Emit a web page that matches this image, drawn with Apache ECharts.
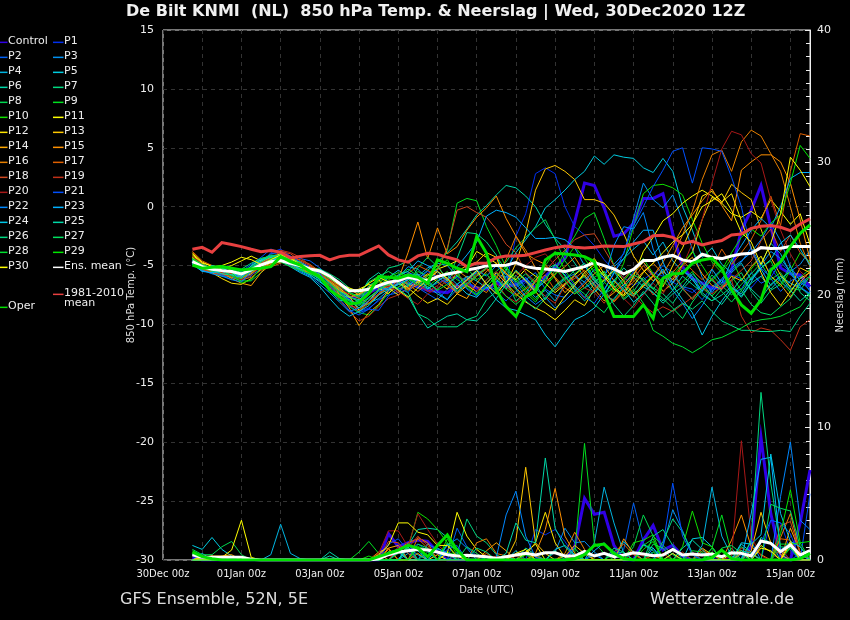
<!DOCTYPE html>
<html>
<head>
<meta charset="utf-8">
<title>De Bilt KNMI 850 hPa</title>
<script src="https://cdn.jsdelivr.net/npm/echarts@6/dist/echarts.min.js"></script>
<style>html,body{margin:0;padding:0;background:#000}#chart{width:850px;height:620px}</style>
</head>
<body>
<div id="chart"></div>
<script>
// ticks
const dateLabels = ['30Dec 00z','01Jan 00z','03Jan 00z','05Jan 00z','07Jan 00z','09Jan 00z','11Jan 00z','13Jan 00z','15Jan 00z'];
const memberNames = ['Control','P1','P2','P3','P4','P5','P6','P7','P8','P9','P10','P11','P12','P13','P14','P15','P16','P17','P18','P19','P20','P21','P22','P23','P24','P25','P26','P27','P28','P29','P30'];
const memberColors = ['#3000e6','#0030f0','#0060f5','#0090f0','#00b4e0','#00cce0','#00d8a8','#00d880','#00d850','#00e020','#10e000','#ffff00','#ffe600','#ffc800','#ffa800','#ff9000','#e88000','#e06000','#d04820','#c03018','#a81818','#0050ff','#0088ff','#00b0ff','#00c8e8','#00d8a8','#00d880','#00e060','#00e030','#00e800','#ffff00'];

// 850 hPa temperature, one value per 6 h step from 30Dec 18z
const tempControl = [-4.6,-5.3,-5.5,-5.6,-5.7,-5.8,-5.5,-5.0,-4.6,-4.5,-4.8,-5.1,-5.4,-5.7,-6.2,-6.9,
-7.8,-7.6,-7.3,-6.9,-6.6,-6.3,-6.5,-6.8,-7.1,-7.2,-7.3,-6.8,-6.6,-6.9,-7.0,-6.5,
-6.8,-6.6,-6.2,-6.9,-5.9,-5.1,-4.4,-1.3,2.0,1.8,-0.1,-2.5,-2.3,-1.4,0.7,0.7,
1.1,-2.3,-5.1,-6.1,-6.5,-6.9,-6.9,-5.4,-2.0,-0.3,1.8,-1.7,-5.2,-5.7,-5.8,-6.8];
const tempP1 = [-4.4,-4.9,-5.2,-5.5,-5.8,-6.2,-5.7,-4.9,-3.9,-3.6,-4.2,-4.7,-5.1,-5.7,-6.4,-7.4,
-8.2,-8.9,-8.6,-8.0,-7.2,-6.6,-6.2,-6.6,-6.9,-6.5,-6.1,-5.9,-6.5,-6.8,-7.0,-6.3,
-6.6,-2.5,-0.6,2.8,3.3,2.8,0.0,-1.7,-2.4,-3.3,-4.5,-5.4,-6.0,-6.7,-6.2,-5.6,
-5.9,-6.4,-6.9,-7.3,-6.6,-7.1,-6.5,-5.8,-6.1,-6.9,-5.9,-5.2,-6.4,-7.0,-6.5,-6.8];
const tempP2 = [-4.6,-5.3,-5.5,-5.8,-6.0,-6.3,-5.9,-4.6,-4.0,-3.9,-4.7,-4.4,-4.6,-5.2,-6.0,-7.0,
-8.4,-9.0,-8.7,-7.9,-7.5,-7.3,-6.5,-6.9,-7.4,-7.9,-7.0,-6.6,-6.0,-7.4,-6.5,-5.7,
-6.0,-6.9,-6.2,-5.6,-7.0,-7.5,-7.7,-6.6,-5.9,-6.5,-7.6,-7.9,-6.7,-5.5,-4.7,-5.9,
-5.0,-5.6,-6.8,-7.0,-7.9,-6.8,-6.2,-7.3,-7.0,-5.6,-6.5,-6.1,-7.2,-6.3,-5.9,-7.2];
const tempP3 = [-4.9,-5.4,-5.6,-5.7,-5.9,-6.1,-5.8,-5.3,-4.5,-4.2,-4.5,-5.0,-5.4,-5.8,-6.4,-7.2,
-7.9,-8.3,-7.7,-7.1,-6.7,-6.0,-5.1,-5.3,-6.2,-5.5,-6.5,-7.3,-6.2,-5.6,-6.6,-7.1,
-5.9,-6.7,-6.0,-7.0,-7.6,-6.8,-6.1,-5.7,-6.9,-6.4,-5.8,-4.9,-4.0,-1.0,2.0,0.6,
-0.1,1.0,-1.2,-3.6,-6.0,-7.3,-6.2,-5.4,-4.7,-3.5,-5.0,-3.8,-4.4,-5.5,-4.9,-3.7];
const tempP4 = [-4.7,-5.5,-5.4,-5.2,-5.7,-6.0,-5.5,-4.7,-4.2,-4.3,-4.6,-4.9,-5.7,-6.1,-6.9,-7.4,
-8.0,-8.6,-8.2,-7.8,-7.1,-6.6,-6.8,-5.9,-5.2,-4.8,-5.0,-5.9,-6.3,-5.5,-4.7,-6.2,
-7.0,-5.8,-6.9,-7.7,-7.1,-8.0,-6.6,-5.9,-6.4,-7.3,-6.5,-5.1,-4.4,-3.6,-2.9,-4.1,
-3.0,-4.6,-5.5,-5.9,-7.2,-6.1,-5.3,-6.6,-7.6,-6.4,-4.9,-3.1,-4.0,-5.7,-6.7,-6.0];
const tempP5 = [-4.8,-5.3,-5.5,-5.3,-5.6,-5.9,-5.2,-4.8,-4.4,-4.5,-4.9,-5.3,-5.6,-6.2,-6.7,-7.5,
-7.7,-7.9,-7.2,-6.8,-6.0,-5.4,-5.9,-6.4,-6.8,-7.4,-7.9,-6.6,-5.9,-6.3,-6.9,-6.4,
-5.4,-3.9,-2.8,-1.7,-0.1,0.6,1.4,2.3,3.0,4.3,3.6,4.4,4.2,4.1,3.3,2.9,
4.1,3.0,0.0,-2.0,-4.3,-3.5,-4.9,-5.6,-4.8,-6.2,-5.3,-6.7,-5.9,-6.5,-6.9,-7.4];
const tempP6 = [-4.5,-5.2,-5.4,-5.6,-5.5,-5.8,-5.2,-4.6,-4.4,-4.5,-4.6,-5.0,-5.5,-5.9,-6.2,-6.8,
-7.3,-7.6,-6.2,-5.6,-6.4,-7.0,-6.7,-6.1,-5.4,-4.7,-3.9,-3.0,-1.9,-0.7,0.1,1.0,
1.8,1.6,0.9,0.0,-1.5,-2.7,-3.6,-4.8,-6.0,-6.7,-7.5,-6.3,-5.2,-6.0,-6.8,-7.3,
-8.0,-7.1,-5.9,-6.6,-7.3,-8.0,-7.5,-6.8,-7.7,-6.5,-5.9,-7.0,-6.1,-5.5,-6.8,-7.6];
const tempP7 = [-4.6,-5.0,-5.2,-5.5,-5.7,-5.5,-5.1,-4.5,-4.1,-4.2,-4.7,-4.9,-5.2,-5.3,-5.7,-6.2,
-6.9,-7.5,-7.1,-6.3,-5.2,-5.0,-4.6,-5.8,-6.6,-7.0,-6.2,-4.4,-2.2,-2.3,-3.0,-4.1,
-6.3,-8.0,-7.3,-6.2,-5.4,-4.9,-5.9,-7.0,-7.7,-6.5,-5.5,-6.7,-7.9,-7.2,-6.0,-6.9,
-7.4,-8.2,-7.0,-6.1,-7.5,-8.0,-7.0,-6.3,-5.6,-7.2,-8.2,-7.1,-6.6,-5.0,-7.3,-8.0];
const tempP8 = [-4.4,-5.1,-5.6,-5.9,-6.0,-6.3,-6.3,-5.6,-4.7,-4.4,-4.9,-5.3,-5.5,-5.8,-6.3,-7.0,
-7.6,-8.1,-8.3,-7.4,-6.7,-6.9,-6.1,-6.5,-7.0,-6.4,-5.7,-5.5,-6.9,-7.5,-6.2,-5.5,
-4.7,-3.5,-2.6,-1.8,-1.1,-2.8,-4.6,-5.7,-5.0,-6.1,-7.4,-6.9,-6.1,-5.3,-6.4,-7.0,
-6.0,-5.5,-7.0,-7.8,-6.9,-5.8,-6.7,-7.5,-6.6,-5.7,-4.8,-6.2,-5.6,-6.9,-7.1,-5.9];
const tempP9 = [-4.3,-5.0,-5.3,-5.4,-5.4,-5.7,-5.6,-4.9,-4.5,-4.3,-4.5,-5.1,-5.6,-6.1,-6.8,-7.6,
-8.5,-9.0,-9.2,-8.4,-7.3,-6.8,-6.4,-5.5,-5.9,-5.3,-3.7,0.3,0.7,0.5,-1.7,-3.3,
-5.2,-6.3,-7.3,-8.1,-6.9,-5.4,-3.8,-2.5,-1.0,-0.5,-2.7,-5.0,-6.4,-7.5,-6.6,-5.8,
-6.3,-7.1,-6.4,-5.5,-6.9,-7.6,-6.7,-5.9,-7.1,-6.0,-5.2,-4.6,-6.3,-7.3,-6.0,-5.3];
const tempP10 = [-4.5,-5.1,-5.3,-5.3,-5.6,-5.9,-5.0,-4.4,-4.2,-4.0,-4.6,-5.2,-5.5,-5.7,-6.3,-6.9,
-7.7,-8.0,-7.4,-6.6,-6.2,-5.8,-5.5,-6.2,-6.8,-6.1,-5.5,-6.2,-6.7,-5.9,-5.2,-6.0,
-7.0,-7.6,-6.9,-6.0,-5.0,-3.8,-5.4,-6.5,-5.9,-5.1,-5.8,-6.6,-4.8,-1.7,1.1,1.8,
1.9,1.6,1.0,-1.1,-3.1,-4.7,-5.6,-4.4,-6.2,-5.3,-4.2,-5.9,-6.8,-5.4,-3.9,-4.7];
const tempP11 = [-4.1,-4.8,-5.0,-5.3,-5.0,-4.6,-4.2,-4.6,-4.3,-4.0,-4.3,-4.8,-5.4,-5.6,-6.1,-6.7,
-7.2,-7.0,-6.6,-6.9,-7.4,-6.4,-7.0,-6.4,-6.1,-5.3,-5.0,-4.6,-5.2,-3.8,-4.3,-4.8,
-5.7,-6.2,-5.3,-5.9,-6.5,-7.3,-6.6,-5.8,-5.1,-4.4,-5.7,-6.8,-7.5,-5.9,-3.8,-2.6,
-1.2,-0.6,0.3,0.9,1.4,0.9,0.3,-0.6,-0.9,-0.4,-1.0,0.6,-0.4,-1.5,-0.6,-3.2];
const tempP12 = [-4.2,-4.9,-5.6,-6.1,-6.5,-6.6,-6.1,-5.3,-4.7,-4.4,-4.8,-5.1,-5.3,-5.7,-6.4,-7.1,
-7.7,-7.4,-6.8,-6.2,-6.9,-7.5,-6.9,-7.6,-8.2,-7.8,-8.3,-7.4,-6.7,-7.2,-6.5,-5.6,
-6.5,-7.4,-8.1,-8.6,-9.0,-9.6,-8.8,-7.9,-8.4,-7.0,-6.2,-5.4,-6.3,-7.4,-6.7,-5.9,
-6.8,-5.0,-3.5,-1.6,0.9,1.3,0.4,1.1,-1.2,-3.5,-5.6,-7.3,-8.4,-7.2,-6.1,-5.6];
const tempP13 = [-4.3,-5.2,-5.3,-5.0,-5.4,-6.0,-5.7,-5.0,-4.8,-4.6,-4.4,-4.7,-5.2,-5.8,-6.1,-6.9,
-7.6,-8.8,-8.0,-7.0,-6.6,-6.2,-6.9,-6.3,-5.7,-6.4,-7.0,-5.5,-5.0,-4.7,-3.9,-4.3,
-6.6,-4.8,-2.3,1.4,3.2,3.5,3.0,2.3,0.6,0.6,0.3,-0.7,-2.3,-4.2,-5.4,-6.3,
-5.5,-6.2,-4.9,-3.9,-1.1,0.8,0.3,1.9,1.2,0.6,-1.9,-4.3,-5.8,-6.8,-5.2,-5.6];
const tempP14 = [-3.9,-4.8,-5.4,-5.6,-6.1,-6.5,-6.7,-5.6,-4.9,-4.7,-4.8,-5.0,-5.1,-5.4,-6.0,-7.5,
-8.6,-10.1,-9.0,-8.3,-7.1,-6.5,-7.1,-6.6,-5.8,-5.0,-6.3,-7.4,-7.8,-6.5,-5.5,-4.8,
-5.6,-6.9,-7.7,-6.3,-5.1,-6.1,-7.3,-6.5,-5.8,-7.0,-8.0,-7.3,-6.6,-5.7,-4.7,-5.8,
-7.2,-6.5,-5.0,-4.3,-5.7,-6.7,-7.0,-5.9,-6.3,-5.1,-4.2,-5.9,-6.6,-7.7,-6.4,-5.5];
const tempP15 = [-4.4,-5.2,-5.5,-5.7,-5.8,-5.8,-5.3,-4.7,-4.3,-4.5,-5.0,-5.4,-5.6,-5.9,-6.3,-6.7,
-7.0,-7.5,-6.9,-6.3,-7.1,-6.2,-3.9,-1.3,-4.4,-1.8,-4.0,-3.4,-2.0,-0.9,-0.1,0.9,
-1.0,-2.5,-4.0,-4.5,-4.9,-6.0,-6.9,-7.4,-6.6,-5.7,-5.0,-6.3,-7.2,-7.6,-6.8,-5.9,
-4.7,-3.3,-1.8,-0.7,0.5,1.5,0.1,-1.2,3.1,3.8,4.4,4.4,3.8,2.0,-1.1,-4.5];
const tempP16 = [-4.7,-5.4,-5.5,-5.6,-6.0,-6.1,-5.6,-5.2,-4.9,-4.6,-4.5,-5.1,-5.7,-5.6,-6.0,-7.1,
-7.4,-7.8,-8.2,-7.5,-6.8,-6.0,-6.6,-7.2,-6.5,-5.8,-6.2,-5.4,-6.0,-6.8,-7.3,-6.1,
-4.5,-2.5,-3.7,-5.2,-6.4,-5.7,-5.1,-4.3,-5.6,-6.6,-7.4,-8.0,-7.1,-6.4,-5.5,-4.8,
-5.7,-4.3,-2.4,-0.4,2.3,4.4,4.8,3.0,5.5,6.5,6.0,4.5,3.0,0.0,-3.1,-5.1];
const tempP17 = [-3.8,-4.6,-5.0,-5.4,-5.7,-6.2,-6.0,-5.4,-5.1,-4.8,-4.4,-4.5,-4.9,-5.5,-6.3,-7.3,
-8.2,-8.9,-8.2,-7.4,-6.5,-6.3,-5.7,-5.0,-5.4,-5.9,-6.7,-7.3,-6.6,-5.9,-5.3,-5.9,
-6.8,-7.5,-7.0,-6.4,-5.8,-7.1,-6.5,-6.1,-5.4,-6.3,-7.3,-8.1,-7.2,-6.1,-5.0,-5.9,
-6.7,-5.6,-4.6,-5.4,-6.2,-5.3,-3.6,-4.9,-3.9,-2.8,-1.2,0.9,-1.6,3.0,6.2,6.0];
const tempP18 = [-4.5,-5.3,-5.6,-5.8,-5.9,-6.0,-5.4,-4.8,-4.4,-3.8,-4.0,-4.6,-5.0,-5.6,-6.5,-7.6,
-8.4,-8.6,-8.0,-7.4,-6.7,-7.3,-6.2,-5.8,-6.3,-5.4,-3.5,-0.3,0.0,-0.5,-0.9,-1.9,
-3.2,-3.9,-5.6,-6.4,-5.5,-4.5,-3.7,-2.8,-2.4,-2.3,-3.6,-5.0,-6.1,-5.2,-6.3,-7.5,
-6.6,-5.8,-6.9,-7.9,-6.8,-6.1,-7.0,-6.2,-5.4,-4.6,-2.9,-1.9,-3.8,-2.4,-3.9,-4.8];
const tempP19 = [-4.6,-5.0,-5.4,-5.6,-5.7,-5.6,-5.5,-5.0,-4.6,-3.7,-3.9,-4.3,-5.0,-5.9,-6.7,-7.9,
-8.9,-9.7,-9.3,-8.5,-7.8,-7.5,-6.9,-6.6,-7.2,-6.7,-6.0,-6.8,-6.3,-5.7,-5.2,-6.5,
-7.6,-8.1,-7.4,-6.8,-7.6,-8.2,-6.7,-5.9,-6.9,-7.3,-8.2,-7.0,-6.2,-7.5,-8.4,-9.0,
-8.5,-8.9,-8.3,-7.7,-6.9,-7.4,-6.8,-6.2,-9.3,-10.7,-10.3,-10.5,-11.3,-12.2,-10.2,-9.6];
const tempP20 = [-4.2,-4.9,-5.2,-5.5,-5.9,-6.2,-5.8,-5.1,-4.7,-4.5,-4.7,-4.8,-5.2,-5.6,-6.2,-6.8,
-7.5,-8.2,-7.5,-6.6,-6.8,-7.2,-7.8,-8.3,-7.4,-6.9,-6.3,-5.7,-6.5,-7.2,-6.2,-5.5,
-6.4,-5.9,-5.0,-4.3,-4.0,-5.0,-6.2,-6.9,-7.8,-7.0,-6.1,-6.9,-7.8,-8.6,-7.5,-6.5,
-7.4,-6.0,-5.1,-3.1,-1.1,2.0,4.9,6.4,6.1,4.5,3.7,0.6,-2.0,-4.0,-5.5,-6.2];
const tempP21 = [-4.5,-5.2,-5.3,-5.8,-6.2,-5.5,-4.9,-4.3,-3.6,-3.9,-4.2,-4.7,-5.2,-5.7,-6.6,-7.8,
-8.8,-9.2,-8.7,-8.8,-7.6,-6.9,-7.3,-6.1,-5.5,-6.0,-6.5,-6.0,-7.0,-7.6,-6.6,-7.3,
-8.0,-7.2,-6.4,-7.3,-5.9,-5.1,-5.6,-6.7,-7.7,-8.2,-7.0,-5.7,-3.9,-1.6,0.0,1.7,
3.1,4.7,5.0,2.0,5.0,4.9,4.7,2.5,0.0,-3.7,-5.2,-6.0,-4.7,-5.6,-6.8,-7.4];
const tempP22 = [-4.8,-5.4,-5.7,-5.9,-6.2,-6.4,-5.5,-4.9,-4.5,-4.4,-5.0,-5.5,-5.9,-6.6,-7.3,-8.1,
-8.9,-8.6,-8.0,-7.2,-6.9,-6.5,-5.6,-5.9,-6.2,-7.2,-7.9,-7.0,-6.1,-5.4,-5.9,-5.0,
-5.8,-6.5,-7.6,-8.3,-7.7,-8.6,-8.0,-7.2,-6.4,-5.3,-6.1,-3.3,-1.7,-1.9,-0.5,-3.6,
-5.7,-7.1,-8.2,-9.5,-8.4,-7.0,-6.1,-5.2,-4.6,-3.9,-2.8,-1.4,-2.9,-5.1,-6.3,-7.1];
const tempP23 = [-4.9,-5.5,-5.6,-5.5,-5.8,-6.0,-5.3,-4.6,-4.2,-4.3,-4.8,-5.4,-5.8,-6.4,-7.0,-7.7,
-8.3,-8.0,-7.4,-6.7,-7.1,-5.8,-5.5,-4.6,-5.0,-5.5,-6.3,-5.1,-4.1,-3.0,-0.8,-0.3,
-0.5,-0.9,-1.8,-2.7,-2.7,-2.6,-2.8,-3.5,-5.0,-6.3,-7.1,-5.6,-4.4,-3.0,-2.0,-2.0,
-4.7,-6.5,-5.4,-6.2,-7.2,-5.3,-6.5,-4.6,-3.3,-2.0,-1.0,-1.8,0.0,2.4,2.9,2.9];
const tempP24 = [-4.7,-5.3,-5.0,-5.2,-5.6,-5.9,-5.0,-4.5,-4.3,-4.6,-5.1,-5.6,-6.0,-6.8,-7.8,-8.7,
-9.3,-8.9,-8.4,-7.5,-7.0,-6.6,-6.2,-5.7,-7.0,-6.3,-5.8,-6.6,-7.4,-7.7,-6.8,-7.9,
-8.6,-8.8,-9.2,-9.6,-10.9,-11.9,-10.7,-9.6,-9.2,-8.6,-7.4,-6.2,-7.0,-8.1,-7.4,-6.4,
-5.3,-6.7,-7.9,-9.0,-10.9,-9.3,-8.0,-6.9,-7.4,-6.1,-5.2,-4.5,-3.1,-2.4,-3.6,-5.0];
const tempP25 = [-4.6,-5.0,-5.4,-5.7,-5.8,-5.7,-5.3,-4.9,-4.5,-4.3,-4.8,-5.3,-5.8,-6.3,-7.1,-8.0,
-7.9,-8.6,-7.7,-7.1,-6.5,-7.0,-7.6,-9.1,-10.3,-9.8,-9.3,-9.1,-9.6,-9.7,-8.9,-7.8,
-6.6,-5.4,-6.2,-7.1,-6.3,-4.9,-5.8,-7.1,-8.0,-7.2,-6.3,-5.5,-6.7,-7.6,-6.5,-7.3,
-8.2,-7.4,-6.8,-5.7,-6.5,-7.6,-8.3,-7.2,-6.1,-7.0,-7.8,-6.6,-5.9,-7.1,-8.0,-7.3];
const tempP26 = [-4.5,-5.1,-5.5,-5.5,-5.4,-5.3,-4.8,-4.4,-4.2,-4.1,-4.5,-4.7,-5.3,-5.8,-6.5,-7.2,
-7.6,-8.1,-6.7,-6.2,-5.9,-6.4,-7.3,-9.1,-9.5,-10.2,-10.2,-10.2,-9.6,-9.3,-7.9,-7.2,
-6.3,-7.0,-8.0,-8.7,-7.8,-7.0,-6.2,-5.4,-4.8,-6.0,-7.0,-8.3,-9.3,-8.4,-7.2,-8.2,
-9.4,-8.8,-8.2,-8.7,-8.0,-8.9,-9.7,-10.1,-10.5,-10.5,-10.6,-10.6,-10.5,-10.6,-9.3,-8.2];
const tempP27 = [-4.4,-4.9,-5.2,-5.2,-5.3,-5.6,-5.2,-4.7,-4.2,-4.2,-4.6,-5.0,-5.2,-5.6,-6.1,-6.6,
-7.0,-7.3,-6.4,-5.9,-5.5,-6.0,-6.7,-5.2,-4.3,-5.1,-6.1,-7.2,-6.5,-5.8,-5.2,-4.2,
-5.4,-6.4,-5.7,-6.6,-7.9,-6.7,-6.0,-6.8,-7.4,-8.3,-9.0,-7.8,-6.9,-5.8,-6.2,-7.0,
-7.8,-8.6,-9.5,-8.1,-7.0,-6.2,-7.2,-8.1,-7.1,-8.3,-9.0,-9.2,-8.5,-7.8,-6.5,-5.9];
const tempP28 = [-4.7,-5.2,-5.4,-5.4,-5.9,-6.1,-5.4,-4.9,-4.6,-4.7,-5.1,-5.4,-5.7,-6.0,-6.6,-7.3,
-8.0,-8.4,-7.8,-7.0,-6.6,-5.9,-5.3,-5.9,-6.4,-7.1,-6.6,-5.9,-5.2,-6.2,-5.7,-6.8,
-7.6,-8.3,-7.6,-7.0,-6.1,-5.2,-6.3,-7.4,-6.9,-6.0,-5.5,-6.8,-7.8,-7.0,-8.2,-10.5,
-11.0,-11.6,-11.9,-12.4,-11.9,-11.3,-11.1,-10.7,-10.3,-9.8,-9.6,-9.5,-9.3,-8.9,-8.5,-7.4];
const tempP29 = [-4.4,-5.0,-5.3,-5.4,-5.6,-6.5,-6.2,-5.2,-4.4,-4.2,-4.6,-5.2,-5.4,-5.5,-6.0,-6.6,
-7.3,-7.7,-7.0,-6.4,-6.0,-5.6,-6.0,-6.7,-5.9,-5.2,-4.5,-5.8,-6.7,-7.5,-6.8,-5.9,
-5.1,-6.1,-7.1,-7.9,-6.8,-5.8,-4.5,-3.4,-4.4,-5.6,-6.4,-7.2,-6.3,-5.3,-4.4,-5.7,
-6.6,-5.8,-4.9,-3.8,-5.0,-6.3,-5.4,-3.9,-2.6,-1.9,-2.5,-1.4,-0.7,2.0,5.2,4.1];
const tempP30 = [-4.0,-4.7,-5.1,-5.0,-4.7,-4.3,-4.5,-4.9,-4.5,-4.1,-4.4,-4.9,-5.3,-5.5,-6.0,-6.6,
-6.9,-7.2,-6.5,-6.0,-6.4,-7.1,-7.7,-6.9,-6.2,-5.5,-6.1,-7.0,-6.2,-5.4,-6.6,-7.4,
-6.4,-5.5,-6.3,-7.2,-8.2,-8.8,-7.6,-6.7,-5.6,-4.9,-5.9,-7.0,-7.6,-6.7,-5.6,-4.8,
-3.9,-3.0,-2.4,-1.5,0.0,0.5,1.1,-0.3,-2.2,-3.0,-4.9,-3.1,-0.6,4.2,3.1,1.7];
const tempMean = [-4.67,-5.09,-5.32,-5.43,-5.51,-5.71,-5.37,-4.95,-4.67,-4.58,-4.81,-5.0,-5.29,-5.46,-5.88,-6.5,
-7.13,-7.13,-7.01,-6.7,-6.42,-6.28,-6.0,-6.17,-6.28,-5.94,-5.71,-5.57,-5.37,-5.23,-5.03,-5.0,
-4.98,-4.75,-5.09,-5.23,-5.29,-5.37,-5.51,-5.29,-5.09,-4.75,-5.0,-5.29,-5.71,-5.32,-4.58,-4.58,
-4.3,-4.13,-4.52,-4.67,-4.04,-4.3,-4.41,-4.19,-4.02,-3.96,-3.48,-3.56,-3.53,-3.39,-3.39,-3.39];
const tempClim = [-3.62,-3.45,-3.87,-3.05,-3.22,-3.39,-3.62,-3.82,-3.73,-3.87,-4.35,-4.24,-4.16,-4.13,-4.52,-4.24,
-4.13,-4.13,-3.73,-3.34,-4.1,-4.52,-4.72,-4.18,-3.96,-4.04,-4.3,-4.52,-5.09,-4.8,-4.8,-4.33,
-4.19,-4.19,-4.13,-3.9,-3.68,-3.48,-3.34,-3.45,-3.51,-3.45,-3.34,-3.36,-3.39,-3.17,-2.97,-2.46,
-2.43,-2.6,-3.14,-2.94,-3.25,-3.05,-2.88,-2.4,-2.32,-1.84,-1.67,-1.61,-1.75,-2.03,-1.47,-1.04];
const tempOper = [-4.95,-5.23,-5.15,-5.09,-5.23,-5.37,-5.29,-5.23,-5.09,-4.24,-4.67,-4.95,-5.51,-5.94,-7.07,-7.64,
-8.26,-8.15,-7.35,-5.94,-6.0,-6.08,-5.8,-6.0,-6.5,-4.52,-4.81,-5.23,-5.51,-2.54,-3.96,-7.07,
-8.49,-9.33,-7.64,-7.21,-4.52,-3.96,-4.02,-4.1,-4.24,-4.67,-7.35,-9.33,-9.33,-9.33,-8.34,-9.48,
-6.08,-5.71,-5.66,-4.81,-4.52,-4.38,-5.23,-7.07,-8.34,-9.05,-7.92,-5.37,-4.67,-3.39,-2.26,-1.55];

// precipitation, [step, mm] for the steps that rain; everything else is 0
const rainControl = [[0,.2],[20,2],[21,1],[22,1.3],[23,1.5],[24,1.4],[25,.6],[31,.1],[39,1],[40,4.65],[41,3.45],[42,3.6],[43,1.1],[46,1.5],[47,2.6],[48,.75],[49,1.1],[50,.3],[57,1],[58,9.25],[59,3.5],[60,.3],[62,2.8],[63,6.8]];
const rainP1 = [[1,.3],[22,.8],[23,1.2],[24,.7],[27,.6],[35,2.3],[36,1.9],[37,2.3],[38,1.4],[39,.3],[45,.6],[49,.5],[59,3],[60,2.8],[61,.7]];
const rainP2 = [[2,.3],[21,.7],[22,1.3],[27,2.4],[28,1],[29,.3],[31,.2],[44,.8],[45,4.3],[46,1.3],[47,.4],[51,.6],[56,.4],[62,.5]];
const rainP3 = [[0,.4],[24,1.2],[25,.8],[26,.6],[37,.6],[38,2.4],[39,1.3],[40,1.4],[41,.6],[48,1],[49,3.8],[50,2.2],[51,.5],[54,.7],[57,1.4]];
const rainP4 = [[1,.5],[8,.4],[9,2.7],[10,.5],[11,.1],[22,.5],[41,1.3],[42,5.5],[43,2.8],[44,.5],[47,.9],[52,1.1],[53,5.5],[54,1.8],[55,.3],[60,.8]];
const rainP5 = [[0,1.1],[1,.8],[2,1.7],[3,.8],[4,.3],[22,.9],[23,.4],[33,.7],[40,.6],[44,1.4],[45,.6],[51,1.6],[52,1.7],[53,1],[56,1.2],[57,.6]];
const rainP6 = [[0,.5],[14,.6],[15,.1],[22,1.1],[23,2.3],[24,2.4],[25,2.3],[26,1.7],[27,.9],[34,.9],[35,.4],[46,1.2],[47,.7],[52,.5],[58,1.7],[59,1.3]];
const rainP7 = [[0,.4],[3,.3],[27,.4],[28,3.1],[29,1.8],[30,1.3],[31,.4],[43,.5],[44,.6],[48,1.4],[49,3.1],[50,2.1],[51,.5],[55,.9],[61,1]];
const rainP8 = [[0,.8],[1,.4],[2,.4],[3,1],[4,1.4],[5,.4],[35,.3],[45,1],[46,3.4],[47,1.8],[48,1.1],[49,.4],[53,.9],[56,1],[57,.5]];
const rainP9 = [[17,.6],[18,1.4],[19,.5],[26,.6],[27,.3],[39,.5],[40,8.8],[41,1.3],[42,.5],[47,.6],[53,.9],[54,3.4],[55,.5]];
const rainP10 = [[22,.9],[23,3.6],[24,3.1],[25,2.3],[26,1.3],[34,.5],[45,1.3],[46,1.5],[47,1.9],[50,1],[51,3.7],[52,1.3],[53,1],[61,.9],[62,.6]];
const rainP11 = [[3,.2],[4,.75],[5,3],[6,.2],[26,.5],[27,3.6],[28,1.8],[29,.8],[30,.2],[34,.6],[35,1.2],[55,.5],[56,.7],[61,1.2]];
const rainP12 = [[1,.2],[2,.3],[25,.4],[34,.4],[35,1.3],[36,3.6],[37,1.3],[38,.2],[40,.7],[52,.9],[53,.4],[58,1.1],[59,.6]];
const rainP13 = [[1,.3],[20,.6],[21,.7],[31,.2],[33,1.5],[34,7],[35,1.3],[36,.5],[38,.3],[39,1.1],[40,.5],[57,.7],[58,3.6],[59,1.3],[60,.4]];
const rainP14 = [[2,.3],[3,.3],[4,.4],[20,.9],[21,1.1],[30,.7],[31,1.3],[32,.7],[47,.4],[56,.5],[61,2.4],[62,.6]];
const rainP15 = [[19,.6],[20,.9],[23,.5],[35,.5],[36,2.3],[37,5.4],[38,1.8],[39,.5],[44,1.6],[45,.5],[55,1.5],[56,3.4],[57,1],[58,.4]];
const rainP16 = [[20,.8],[23,1.7],[24,1.3],[29,1.3],[30,1.6],[31,.5],[32,.3],[38,.5],[39,2.1],[40,.8],[60,1.7],[61,3.5],[62,.5]];
const rainP17 = [[19,.5],[21,.8],[22,1.3],[23,1.6],[24,.9],[30,.5],[43,.6],[44,1.2],[45,.4],[52,.7],[53,.4],[60,1.6],[61,1.5]];
const rainP18 = [[20,1.4],[21,1.3],[22,.5],[31,.3],[35,.3],[48,.5],[50,.6],[52,.9],[60,2.6],[61,2.9],[62,.5]];
const rainP19 = [[21,1],[22,.9],[23,1.8],[24,1.1],[33,.3],[39,.4],[51,.6],[56,.9],[57,.5],[61,1.4],[62,.5]];
const rainP20 = [[19,.5],[20,2.2],[21,2.2],[22,1],[23,3.5],[24,2.3],[25,1.2],[26,.4],[45,.5],[46,.3],[55,.3],[56,9],[57,1.8],[58,.3],[60,.9]];
const rainP21 = [[20,1.2],[21,1.6],[22,.7],[26,.8],[27,1.1],[43,.7],[48,1.1],[49,5.8],[50,1.8],[51,.4],[58,1.3],[59,3],[60,2.8],[61,2],[63,5]];
const rainP22 = [[22,1.1],[23,.9],[26,1.1],[27,1.6],[28,.9],[31,.2],[32,3.4],[33,5.2],[34,1.8],[35,.2],[41,.4],[60,4.8],[61,8.9],[62,3],[63,2.3]];
const rainP23 = [[21,.6],[26,1.2],[27,.8],[41,.7],[42,1.3],[43,.4],[57,3.5],[58,7.6],[59,7.75],[60,.75],[61,1.3],[62,.4]];
const rainP24 = [[22,1.1],[23,.7],[25,.9],[26,.5],[32,.3],[37,.8],[38,1.1],[39,.4],[46,1.1],[47,.9],[56,1.3],[57,1.2],[58,1.9],[59,8],[60,3.5],[61,1.4],[62,1]];
const rainP25 = [[14,.3],[22,1],[32,.5],[33,2.8],[34,1.5],[35,1.3],[36,7.7],[37,2.4],[38,1],[39,.3],[50,.9],[51,1.5],[52,.8],[56,.7],[57,.5]];
const rainP26 = [[20,.6],[21,.8],[24,.6],[29,.9],[30,.6],[43,.9],[44,.6],[47,1.8],[48,2.3],[49,1.1],[57,1.5],[58,12.65],[59,5.8],[60,1],[61,.9]];
const rainP27 = [[23,1.2],[24,.9],[28,1],[29,.5],[37,.7],[39,.9],[47,1.2],[48,.9],[54,.9],[55,1.1],[56,.5],[59,4.2],[60,3.9],[61,3.7],[62,1]];
const rainP28 = [[21,.5],[22,.9],[26,1.3],[27,.7],[34,.4],[43,.6],[46,1.1],[47,1.6],[51,.7],[52,.6],[60,1.2],[61,1.2],[62,1.3]];
const rainP29 = [[0,.7],[1,.3],[18,.3],[23,1],[24,.8],[26,1.6],[27,.4],[46,.8],[47,1.4],[53,.6],[60,2],[61,5.3],[62,1.3],[63,1.4]];
const rainP30 = [[19,.4],[20,1.1],[21,2.8],[22,2.8],[23,2.1],[24,1.9],[25,1.1],[26,1.1],[27,.3],[33,.5],[34,.8],[49,.5],[58,.9],[59,.7],[61,1.4]];
const rainMean = [[0,.4],[1,.2],[2,.2],[3,.2],[4,.2],[5,.2],[6,.05],[19,.1],[20,.4],[21,.6],[22,.7],[23,.8],[24,.75],[25,.6],[26,.4],[27,.3],[28,.35],[29,.3],[30,.25],[31,.12],[32,.25],[33,.38],[34,.5],[35,.38],[36,.55],[37,.55],[38,.3],[39,.3],[40,.65],[41,.3],[42,.5],[43,.25],[44,.38],[45,.55],[46,.45],[47,.33],[48,.38],[49,.8],[50,.38],[51,.45],[52,.38],[53,.45],[54,.25],[55,.55],[56,.5],[57,.3],[58,1.43],[59,1.26],[60,.63],[61,1.13],[62,.38],[63,.7]];
const rainOper = [[0,.6],[1,.25],[2,.1],[19,.25],[20,.5],[21,.75],[22,1.1],[23,.9],[24,.25],[25,1.1],[26,1.9],[27,.75],[39,.1],[40,.4],[41,1.1],[42,1.2],[43,.5],[44,.1],[53,.2],[54,.75],[55,.1],[62,.1],[63,.5]];

const tempMembers = [tempControl,tempP1,tempP2,tempP3,tempP4,tempP5,tempP6,tempP7,tempP8,tempP9,tempP10,tempP11,tempP12,tempP13,tempP14,tempP15,tempP16,tempP17,tempP18,tempP19,tempP20,tempP21,tempP22,tempP23,tempP24,tempP25,tempP26,tempP27,tempP28,tempP29,tempP30];
const rainMembers = [rainControl,rainP1,rainP2,rainP3,rainP4,rainP5,rainP6,rainP7,rainP8,rainP9,rainP10,rainP11,rainP12,rainP13,rainP14,rainP15,rainP16,rainP17,rainP18,rainP19,rainP20,rainP21,rainP22,rainP23,rainP24,rainP25,rainP26,rainP27,rainP28,rainP29,rainP30];

const meanColor = '#ffffff', climColor = '#e84040', operColor = '#00e000', textColor = '#eeeeee';

const stepHour = i => 18 + 6 * i;
const tempLine = vals => vals.map((v, i) => [stepHour(i), v]);
const rainLine = pairs => {
    const full = tempMean.map((_, i) => [stepHour(i), 0]);
    pairs.forEach(p => { full[p[0]][1] = p[1]; });
    return full;
};

const lineSeries = (name, color, width, yAxisIndex, data) => ({
    name, type: 'line', yAxisIndex, data,
    showSymbol: false, symbol: 'none', silent: true,
    lineStyle: { color, width, join: 'miter' }
});

const series = [];
memberNames.forEach((name, m) => {
    const width = name === 'Control' ? 3 : 1;
    series.push(lineSeries(name, memberColors[m], width, 0, tempLine(tempMembers[m])));
    series.push(lineSeries(name, memberColors[m], width, 1, rainLine(rainMembers[m])));
});
series.push(lineSeries('Ens. mean', meanColor, 3, 0, tempLine(tempMean)));
series.push(lineSeries('Ens. mean', meanColor, 3, 1, rainLine(rainMean)));
series.push(lineSeries('1981-2010 mean', climColor, 3, 0, tempLine(tempClim)));
series.push(lineSeries('Oper', operColor, 3, 0, tempLine(tempOper)));
series.push(lineSeries('Oper', operColor, 3, 1, rainLine(rainOper)));

// the legend hugs its keys closer than the legend component can, so it is drawn by hand
const legendItem = (label, color, lineX, textX, rowY) => [
    { type: 'rect', shape: { x: lineX, y: rowY + 0.6, width: textX - lineX - 0.5, height: 1.5 }, style: { fill: color } },
    { type: 'text', x: textX, y: rowY, style: { text: label, fill: textColor, font: '11px "DejaVu Sans"', verticalAlign: 'middle' } }
];
let legendGraphics = [];
memberNames.forEach((name, m) => {
    const row = Math.floor(m / 2);
    const isLeft = m % 2 === 0;
    legendGraphics = legendGraphics.concat(legendItem(name, memberColors[m], isLeft ? 0 : 53, isLeft ? 8 : 64, 41 + 15 * row));
});
legendGraphics = legendGraphics.concat(
    legendItem('Ens. mean', meanColor, 53, 64, 266),
    legendItem('1981-2010', climColor, 53, 64, 293),
    [{ type: 'text', x: 64, y: 303.5, style: { text: 'mean', fill: textColor, font: '11px "DejaVu Sans"', verticalAlign: 'middle' } }],
    legendItem('Oper', operColor, 0, 8, 306)
);

const chart = echarts.init(document.getElementById('chart'), null, { renderer: 'canvas' });
chart.setOption({
    backgroundColor: '#000000',
    animation: false,
    textStyle: { fontFamily: 'DejaVu Sans' },
    title: [
        { text: 'De Bilt KNMI  (NL)  850 hPa Temp. & Neerslag | Wed, 30Dec2020 12Z', left: 126, top: 4, padding: 0, textStyle: { color: '#f0f0f0', fontSize: 16, fontWeight: 'bold', fontFamily: 'DejaVu Sans' } },
        { text: 'GFS Ensemble, 52N, 5E', left: 120, top: 592, padding: 0, textStyle: { color: '#dddddd', fontSize: 16, fontWeight: 'normal', fontFamily: 'DejaVu Sans' } },
        { text: 'Wetterzentrale.de', left: 650, top: 592, padding: 0, textStyle: { color: '#dddddd', fontSize: 16, fontWeight: 'normal', fontFamily: 'DejaVu Sans' } }
    ],
    graphic: legendGraphics,
    grid: { left: 163, right: 40, top: 30, bottom: 60, outerBoundsMode: 'none', show: true, borderColor: '#eeeeee', borderWidth: 1, backgroundColor: '#000000' },
    xAxis: {
        type: 'value', min: 0, max: 396, interval: 24,
        name: 'Date (UTC)', nameLocation: 'middle', nameGap: 25, nameMoveOverlap: false,
        nameTextStyle: { color: '#dddddd', fontSize: 10 },
        axisLine: { show: false }, axisTick: { show: false },
        axisLabel: { color: '#eeeeee', fontSize: 10, margin: 9, showMaxLabel: false, formatter: v => (v % 48 === 0 ? dateLabels[v / 48] : '') },
        splitLine: { show: true, lineStyle: { color: '#333333', type: [4, 4], width: 1 } }
    },
    yAxis: [
        {
            type: 'value', min: -30, max: 15, interval: 5,
            name: '850 hPa Temp. (°C)', nameLocation: 'middle', nameGap: 27, nameRotate: 90, nameMoveOverlap: false,
            nameTextStyle: { color: '#dddddd', fontSize: 10 },
            axisLine: { show: false }, axisTick: { show: false },
            axisLabel: { color: '#eeeeee', fontSize: 11, margin: 9 },
            splitLine: { show: true, lineStyle: { color: '#333333', type: [4, 4], width: 1 } }
        },
        {
            type: 'value', min: 0, max: 40, interval: 10, position: 'right',
            name: 'Neerslag (mm)', nameLocation: 'middle', nameGap: 25, nameRotate: 90, nameMoveOverlap: false,
            nameTextStyle: { color: '#dddddd', fontSize: 10 },
            axisLine: { show: true, lineStyle: { color: '#eeeeee', width: 1 } },
            axisTick: { show: true, inside: true, length: 5, lineStyle: { color: '#eeeeee' } },
            minorTick: { show: true, splitNumber: 10, length: 4, lineStyle: { color: '#eeeeee' } },
            axisLabel: { color: '#eeeeee', fontSize: 11, margin: 7 },
            splitLine: { show: false }
        }
    ],
    series
});
</script>
</body>
</html>
